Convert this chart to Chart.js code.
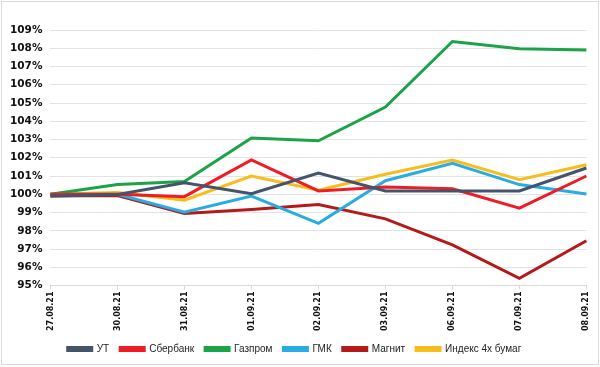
<!DOCTYPE html>
<html>
  <head>
    <meta charset="UTF-8" />
    <title>line chart</title>
    <script src="https://cdn.jsdelivr.net/npm/chart.js@4"></script>
    <style>
      body { margin: 0; background: #fff; }
      #box { position: absolute; left: 1px; top: 1px; width: 596px; height: 362px; border: 1px solid #d9d9d9; }
    </style>
    <script>
      const labels = ['27.08.21', '30.08.21', '31.08.21', '01.09.21', '02.09.21', '03.09.21', '06.09.21', '07.09.21', '08.09.21']
      const ut = [99.9, 99.99, 100.63, 100.03, 101.16, 100.18, 100.18, 100.18, 101.44]
      const sber = [100, 100.0, 99.87, 101.88, 100.18, 100.4, 100.3, 99.24, 101.0]
      const gazprom = [100, 100.53, 100.7, 103.08, 102.93, 104.78, 108.37, 107.97, 107.9]
      const gmk = [100, 100.0, 99.02, 99.9, 98.41, 100.74, 101.69, 100.53, 100.02]
      const magnit = [99.9, 99.93, 98.95, 99.17, 99.44, 98.65, 97.23, 95.39, 97.45]
      const index4 = [100, 100.1, 99.68, 101.0, 100.22, 101.1, 101.88, 100.8, 101.62]

      const seriesNames = ['УТ', 'Сбербанк', 'Газпром', 'ГМК', 'Магнит', 'Индекс 4х бумаг']
      const seriesData = [ut, sber, gazprom, gmk, magnit, index4]
      const colors = ['#44546a', '#ee1c25', '#1ba34a', '#27ace3', '#b41a1a', '#f7bd1c']

      const draw = function () {
        const ctx = document.querySelector('#chart').getContext('2d')
        const datasets = seriesNames.map(function (name, i) {
          return {
            label: name,
            data: seriesData[i],
            borderColor: colors[i],
            backgroundColor: colors[i],
            borderWidth: 3,
            pointRadius: 0,
            tension: 0,
          }
        })
        window.chart = new Chart(ctx, {
          type: 'line',
          data: { labels: labels, datasets: datasets },
          options: {
            responsive: false,
            animation: false,
            layout: { padding: { left: 0, right: 11, top: 28, bottom: 0 } },
            plugins: {
              legend: {
                position: 'bottom',
                labels: {
                  boxWidth: 24,
                  boxHeight: 3,
                  padding: 11,
                  color: '#222',
                  font: { family: 'Liberation Sans', size: 10 },
                },
              },
              tooltip: { enabled: false },
            },
            scales: {
              x: {
                offset: false,
                grid: { drawOnChartArea: false, color: '#d9d9d9', tickLength: 4 },
                border: { color: '#d9d9d9' },
                ticks: {
                  minRotation: 90,
                  maxRotation: 90,
                  color: '#111',
                  padding: 2,
                  font: { family: 'DejaVu Sans', size: 8, weight: 'bold' },
                },
              },
              y: {
                min: 95,
                max: 109,
                grid: { color: '#e3e3e3', drawTicks: false },
                border: { display: false },
                ticks: {
                  stepSize: 1,
                  color: '#111',
                  padding: 8,
                  font: { family: 'DejaVu Sans', size: 10.5, weight: 'bold' },
                  callback: function (v) { return v + '%' },
                },
              },
            },
          },
        })
      }
      window.onload = function () { draw() }
    </script>
  </head>
  <body>
    <div id="box">
      <canvas id="chart" width="596" height="362"></canvas>
    </div>
  </body>
</html>
